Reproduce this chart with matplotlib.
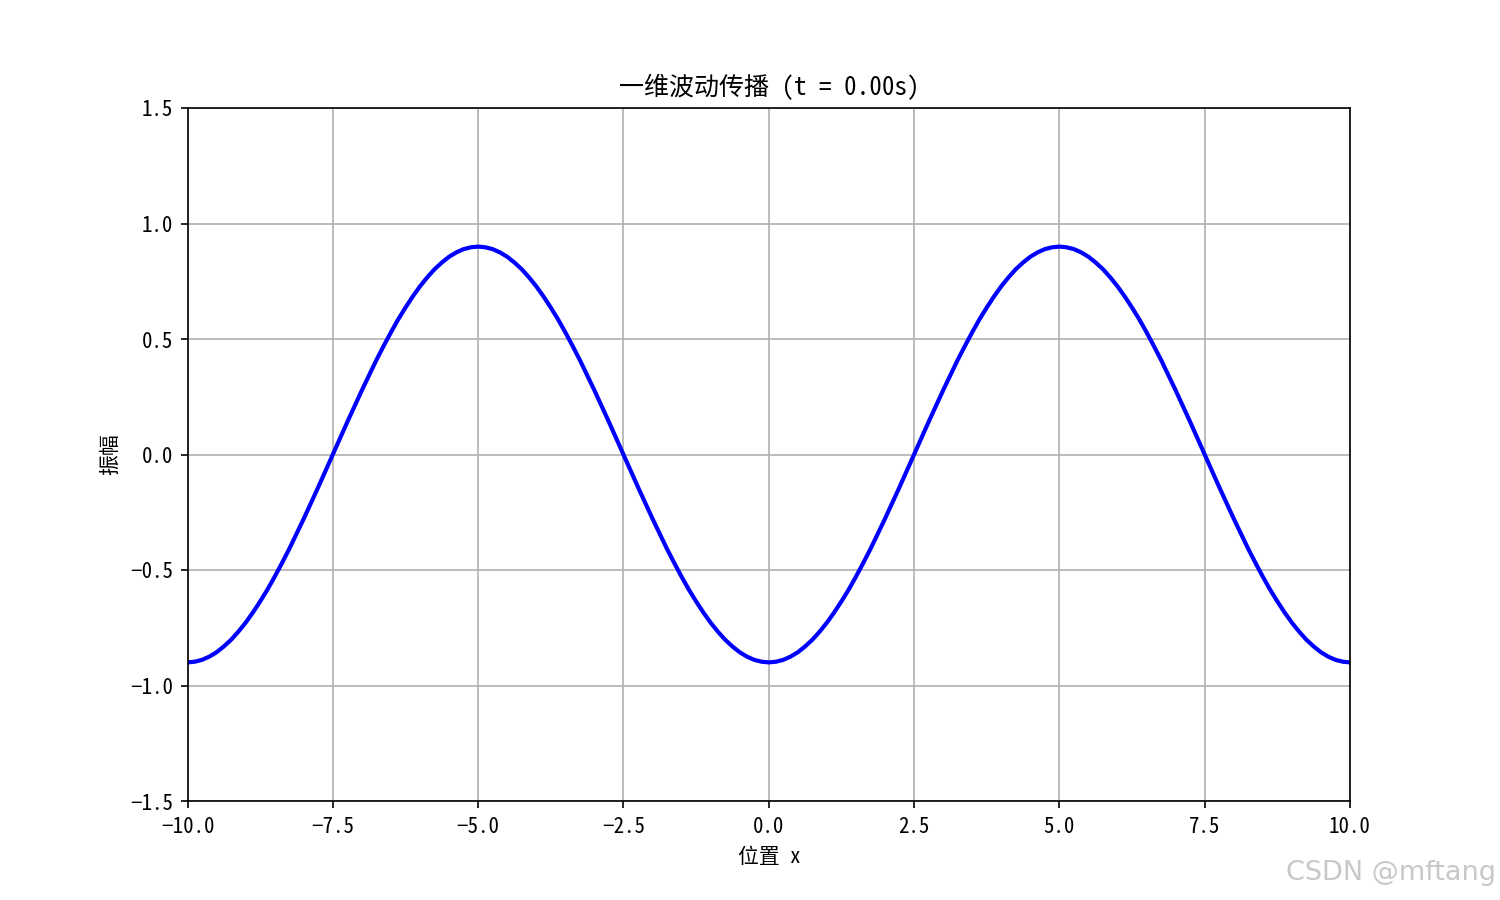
import matplotlib
matplotlib.use("Agg")
import matplotlib.pyplot as plt

plt.rcParams['font.family'] = ['Noto Sans Mono CJK SC', 'Noto Sans CJK SC', 'DejaVu Sans']
plt.rcParams['axes.unicode_minus'] = True

# 位置 x（步长 0.125）
x = [-10 + 0.125 * i for i in range(161)]

# 振幅（从图中读取，半个周期 x = 0 ... 5）
half = [-0.900, -0.897, -0.889, -0.875, -0.856, -0.831, -0.802, -0.767,
        -0.728, -0.684, -0.636, -0.585, -0.529, -0.470, -0.409, -0.344,
        -0.278, -0.210, -0.141, -0.071, 0.000, 0.071, 0.141, 0.210,
        0.278, 0.344, 0.409, 0.470, 0.529, 0.585, 0.636, 0.684,
        0.728, 0.767, 0.802, 0.831, 0.856, 0.875, 0.889, 0.897, 0.900]
period = half + half[-2::-1]           # x = 0 .. 10
y = period[:-1] + period               # x = -10 .. 10

title = '一维波动传播 (t = 0.00s)'

fig, ax = plt.subplots(figsize=(10, 6), dpi=150)
ax.plot(x, y, color='blue', linewidth=2)
ax.set_xlim(-10, 10)
ax.set_ylim(-1.5, 1.5)
ax.set_title(title)
ax.set_xlabel('位置 x')
ax.set_ylabel('振幅')
ax.grid(True)

fig.text(0.997, 0.03, 'CSDN @mftang', ha='right', va='center',
         fontsize=13, color='#c8c8c8', family=['DejaVu Sans'])

fig.savefig('out.png', dpi=150)
